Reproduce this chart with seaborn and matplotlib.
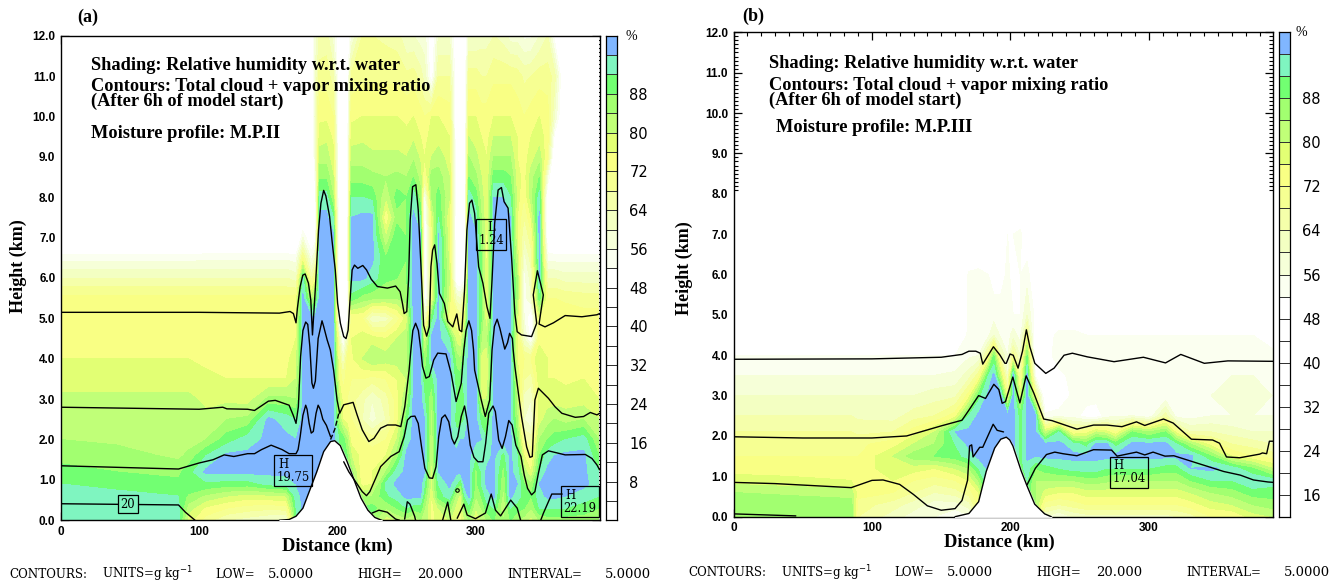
import numpy as np
import matplotlib
matplotlib.use('Agg')
import matplotlib.pyplot as plt
from matplotlib.colors import ListedColormap, BoundaryNorm
from matplotlib.ticker import MultipleLocator
import seaborn as sns

# shading colours, 0-100 % every 4 %
levels = list(range(0, 104, 4))
colors = ['#ffffff'] * 13 + ['#fbfff0', '#f6ffd8', '#f3ffc2', '#f5ffaa', '#f6ff92', '#f9ff84',
                             '#e2ff74', '#c0ff78', '#a2ff70', '#72ff72', '#7ff5c0', '#80b6ff']
cbar_ticks_a = [8, 16, 24, 32, 40, 48, 56, 64, 72, 80, 88]
cbar_ticks_b = [16, 24, 32, 40, 48, 56, 64, 72, 80, 88]

# relative humidity panel a, one list per distance
z_a = [0, .3, .6, .9, 1.2, 1.6, 2, 2.5, 3, 3.5, 4, 4.5, 5, 5.5, 6, 6.5, 7, 7.5, 8, 8.5, 9, 9.5, 10, 11, 12]
x_a = [0, 40, 85, 92, 105, 120, 135, 150, 163, 170, 175, 181, 184, 187, 192, 197, 201, 204, 207, 210, 218, 225,
       235, 243, 250, 255, 260, 263, 268, 273, 281, 286, 289, 292, 295, 300, 304, 308, 313, 320, 325, 330, 335,
       340, 346, 352, 357, 365, 378, 389]
rh_a = [
    [96, 94, 93, 92, 89, 87, 84, 83, 81, 78, 76, 75, 75, 73, 64, 54, 40, 40, 40, 40, 40, 40, 40, 40, 40],
    [95, 93, 93, 91, 88, 86, 83, 82, 81, 78, 76, 75, 75, 73, 64, 54, 40, 40, 40, 40, 40, 40, 40, 40, 40],
    [93, 93, 92, 89, 87, 83, 82, 81, 81, 78, 76, 75, 75, 73, 64, 54, 40, 40, 40, 40, 40, 40, 40, 40, 40],
    [78, 82, 87, 92, 90, 85, 82, 81, 81, 78, 76, 75, 75, 73, 64, 54, 40, 40, 40, 40, 40, 40, 40, 40, 40],
    [70, 75, 83, 91, 97, 92, 84, 81, 79, 77, 75, 75, 75, 73, 64, 55, 40, 40, 40, 40, 40, 40, 40, 40, 40],
    [64, 72, 80, 90, 97, 97, 90, 84, 79, 76, 75, 75, 75, 73, 64, 55, 40, 40, 40, 40, 40, 40, 40, 40, 40],
    [62, 70, 78, 90, 97, 97, 94, 85, 78, 76, 75, 75, 74, 73, 64, 55, 40, 40, 40, 40, 40, 40, 40, 40, 40],
    [60, 69, 79, 93, 97, 97, 97, 97, 85, 76, 75, 75, 74, 73, 64, 55, 40, 40, 40, 40, 40, 40, 40, 40, 40],
    [58, 70, 80, 94, 97, 97, 97, 94, 85, 76, 75, 75, 74, 73, 64, 55, 40, 40, 40, 40, 40, 40, 40, 40, 40],
    [90, 92, 94, 96, 97, 97, 96, 92, 84, 80, 78, 76, 76, 74, 62, 54, 40, 40, 40, 40, 40, 40, 40, 40, 40],
    [97, 97, 97, 97, 97, 97, 97, 97, 97, 97, 97, 97, 97, 97, 93, 72, 56, 44, 40, 40, 40, 40, 40, 40, 40],
    [97, 97, 97, 97, 97, 97, 97, 97, 97, 97, 97, 97, 97, 82, 66, 55, 45, 40, 40, 40, 40, 40, 40, 40, 40],
    [97, 97, 97, 97, 97, 97, 97, 97, 97, 97, 97, 97, 97, 86, 74, 60, 50, 46, 50, 54, 58, 60, 62, 60, 58],
    [97, 97, 97, 97, 97, 97, 97, 97, 97, 97, 97, 97, 97, 97, 97, 97, 97, 97, 94, 87, 82, 78, 75, 70, 65],
    [97, 97, 97, 97, 97, 97, 97, 97, 97, 97, 97, 97, 97, 97, 97, 97, 97, 97, 94, 87, 82, 79, 75, 70, 66],
    [97, 97, 97, 97, 97, 97, 97, 97, 97, 97, 97, 97, 97, 97, 97, 97, 97, 92, 84, 80, 77, 75, 72, 66, 58],
    [92, 92, 92, 92, 92, 92, 92, 84, 82, 76, 72, 66, 50, 46, 46, 46, 46, 46, 46, 46, 46, 46, 46, 46, 46],
    [92, 92, 92, 92, 92, 92, 90, 76, 74, 70, 60, 50, 46, 46, 46, 46, 46, 46, 46, 46, 46, 46, 46, 46, 46],
    [90, 90, 90, 90, 90, 88, 84, 74, 72, 74, 72, 62, 50, 46, 46, 46, 46, 46, 46, 46, 46, 46, 46, 46, 46],
    [88, 88, 88, 88, 86, 80, 74, 72, 70, 72, 75, 76, 72, 90, 97, 97, 97, 96, 92, 86, 82, 78, 75, 69, 56],
    [88, 88, 84, 74, 72, 74, 72, 64, 65, 72, 80, 78, 72, 86, 97, 97, 97, 97, 92, 86, 82, 79, 76, 71, 68],
    [86, 90, 84, 76, 76, 74, 70, 58, 60, 70, 84, 78, 60, 85, 94, 97, 97, 97, 91, 85, 81, 78, 76, 71, 68],
    [78, 84, 91, 93, 84, 76, 72, 64, 66, 72, 82, 76, 62, 84, 89, 88, 80, 72, 80, 84, 81, 78, 76, 71, 67],
    [80, 88, 94, 97, 94, 86, 80, 74, 74, 76, 82, 80, 70, 84, 88, 90, 92, 86, 90, 85, 81, 78, 76, 71, 66],
    [82, 92, 97, 97, 97, 97, 94, 90, 84, 80, 82, 82, 78, 86, 88, 88, 88, 88, 88, 84, 80, 77, 75, 69, 60],
    [78, 90, 97, 97, 97, 97, 97, 97, 97, 97, 97, 97, 97, 97, 97, 97, 97, 97, 94, 88, 83, 79, 76, 70, 60],
    [84, 90, 97, 97, 97, 97, 97, 97, 97, 97, 97, 97, 97, 97, 97, 97, 97, 92, 86, 82, 79, 76, 74, 66, 58],
    [84, 84, 88, 92, 96, 97, 97, 96, 92, 88, 84, 76, 58, 46, 46, 46, 46, 46, 50, 70, 76, 74, 72, 62, 58],
    [74, 74, 76, 78, 78, 80, 80, 82, 84, 90, 96, 97, 90, 72, 72, 72, 72, 76, 84, 86, 80, 78, 76, 48, 46],
    [78, 80, 90, 92, 96, 97, 97, 97, 97, 97, 97, 97, 97, 97, 97, 97, 97, 92, 90, 86, 82, 78, 76, 68, 60],
    [80, 86, 94, 97, 97, 97, 97, 97, 97, 97, 97, 92, 74, 78, 80, 78, 76, 76, 80, 80, 78, 76, 74, 68, 60],
    [76, 78, 82, 92, 97, 97, 94, 90, 92, 90, 86, 78, 74, 62, 46, 46, 46, 46, 46, 46, 46, 46, 46, 46, 46],
    [74, 76, 78, 88, 97, 97, 96, 90, 90, 90, 84, 76, 70, 60, 46, 46, 46, 46, 46, 46, 46, 46, 46, 46, 46],
    [80, 86, 92, 97, 97, 97, 96, 92, 92, 94, 92, 86, 76, 70, 50, 46, 46, 46, 46, 46, 46, 46, 46, 46, 46],
    [84, 90, 97, 97, 97, 97, 97, 97, 97, 97, 97, 97, 97, 97, 97, 97, 97, 97, 94, 88, 84, 80, 76, 70, 60],
    [76, 80, 84, 86, 86, 92, 97, 97, 97, 97, 97, 97, 97, 97, 97, 97, 97, 94, 90, 85, 81, 78, 76, 70, 60],
    [80, 84, 88, 92, 92, 94, 96, 90, 80, 78, 78, 84, 88, 88, 88, 88, 86, 84, 82, 80, 78, 76, 74, 68, 62],
    [84, 90, 94, 97, 97, 94, 92, 88, 80, 76, 76, 82, 76, 74, 74, 74, 74, 76, 76, 76, 76, 74, 74, 68, 62],
    [88, 92, 97, 97, 97, 97, 97, 97, 97, 97, 97, 97, 97, 97, 97, 97, 97, 97, 96, 90, 84, 80, 76, 71, 64],
    [84, 80, 82, 84, 86, 90, 97, 97, 97, 97, 97, 97, 97, 97, 97, 97, 97, 97, 96, 90, 84, 80, 76, 71, 62],
    [88, 92, 97, 97, 97, 97, 97, 97, 97, 97, 97, 97, 97, 97, 97, 97, 97, 96, 92, 88, 84, 80, 76, 71, 58],
    [84, 90, 94, 96, 94, 92, 88, 84, 82, 80, 76, 76, 78, 84, 84, 80, 76, 76, 78, 78, 76, 76, 74, 70, 58],
    [82, 88, 90, 88, 82, 76, 68, 60, 62, 68, 72, 60, 56, 54, 54, 58, 64, 68, 72, 74, 74, 72, 72, 67, 55],
    [78, 84, 88, 84, 76, 70, 66, 56, 60, 66, 72, 50, 46, 60, 62, 66, 70, 76, 82, 82, 78, 76, 74, 68, 55],
    [84, 92, 94, 96, 92, 88, 84, 78, 78, 78, 80, 74, 76, 90, 97, 97, 97, 97, 94, 88, 82, 78, 76, 70, 60],
    [86, 92, 97, 97, 97, 94, 88, 82, 78, 76, 76, 74, 76, 72, 64, 54, 46, 42, 44, 56, 72, 74, 74, 70, 64],
    [86, 92, 97, 97, 97, 96, 90, 84, 78, 76, 75, 74, 75, 72, 64, 54, 42, 40, 40, 40, 42, 50, 60, 66, 50],
    [86, 92, 96, 97, 97, 97, 92, 82, 78, 75, 74, 74, 75, 71, 62, 54, 40, 40, 40, 40, 40, 40, 40, 40, 40],
    [86, 90, 94, 97, 97, 97, 94, 84, 78, 76, 74, 74, 74, 70, 62, 54, 40, 40, 40, 40, 40, 40, 40, 40, 40],
    [84, 88, 92, 94, 92, 88, 84, 80, 76, 75, 74, 74, 74, 70, 62, 54, 40, 40, 40, 40, 40, 40, 40, 40, 40],
]

# relative humidity panel b, one list per distance
z_b = [0, .3, .6, .9, 1.2, 1.5, 1.8, 2.1, 2.5, 3, 3.5, 4, 4.5, 5, 6, 7, 8]
x_b = [0, 40, 85, 90, 115, 130, 145, 160, 170, 177, 184, 188, 193, 198, 202, 207, 212, 218, 225, 235, 245, 255,
       262, 269, 276, 288, 300, 312, 320, 330, 345, 360, 375, 389]
rh_b = [
    [88, 88, 84, 78, 74, 72, 72, 68, 64, 60, 56, 52, 46, 44, 40, 40, 40],
    [88, 87, 83, 77, 74, 72, 72, 68, 64, 60, 56, 52, 46, 44, 40, 40, 40],
    [88, 86, 82, 76, 74, 72, 72, 68, 64, 60, 56, 52, 46, 44, 40, 40, 40],
    [68, 70, 74, 76, 74, 72, 71, 67, 63, 60, 56, 52, 46, 44, 40, 40, 40],
    [62, 66, 72, 76, 78, 80, 74, 68, 62, 60, 56, 52, 46, 44, 40, 40, 40],
    [58, 62, 68, 72, 78, 86, 80, 74, 66, 60, 56, 52, 46, 44, 40, 40, 40],
    [56, 58, 64, 70, 76, 88, 84, 80, 68, 62, 56, 52, 46, 44, 40, 40, 40],
    [53, 58, 66, 72, 80, 90, 92, 96, 74, 63, 57, 52, 46, 44, 40, 40, 40],
    [55, 62, 70, 76, 84, 94, 97, 97, 92, 74, 62, 55, 53, 53, 53, 40, 40],
    [70, 74, 76, 84, 92, 97, 97, 97, 97, 90, 70, 56, 53, 53, 54, 40, 40],
    [97, 97, 97, 97, 97, 97, 97, 97, 97, 97, 92, 70, 55, 53, 52, 40, 40],
    [97, 97, 97, 97, 97, 97, 97, 97, 97, 97, 97, 88, 60, 54, 50, 40, 40],
    [97, 97, 97, 97, 97, 97, 97, 97, 97, 97, 80, 64, 55, 54, 50, 40, 40],
    [97, 97, 97, 97, 97, 97, 97, 97, 97, 72, 60, 56, 54, 53, 53, 52, 40],
    [97, 97, 97, 97, 97, 97, 97, 97, 97, 97, 97, 70, 58, 52, 50, 52, 46],
    [90, 90, 90, 90, 90, 90, 90, 90, 90, 76, 66, 60, 54, 52, 52, 53, 44],
    [90, 90, 90, 92, 94, 97, 97, 97, 97, 97, 97, 88, 72, 60, 54, 48, 40],
    [84, 84, 84, 84, 88, 96, 97, 97, 97, 72, 52, 46, 46, 50, 46, 40, 40],
    [60, 70, 78, 84, 90, 97, 97, 80, 53, 46, 48, 50, 50, 50, 44, 40, 40],
    [55, 68, 76, 84, 92, 97, 97, 92, 54, 48, 51, 54, 53, 49, 42, 40, 40],
    [60, 70, 76, 84, 94, 97, 94, 72, 54, 53, 53, 54, 53, 49, 46, 40, 40],
    [62, 72, 78, 86, 94, 97, 90, 74, 50, 54, 54, 54, 52, 48, 40, 40, 40],
    [62, 72, 78, 86, 94, 97, 97, 80, 49, 54, 54, 54, 52, 48, 40, 40, 40],
    [62, 72, 78, 85, 92, 97, 97, 78, 54, 54, 54, 54, 52, 48, 40, 40, 40],
    [62, 72, 78, 84, 92, 97, 90, 72, 55, 54, 54, 54, 52, 48, 40, 40, 40],
    [62, 72, 78, 84, 92, 97, 97, 88, 56, 53, 53, 54, 52, 48, 40, 40, 40],
    [62, 72, 78, 84, 92, 97, 97, 84, 53, 53, 53, 54, 52, 48, 40, 40, 40],
    [62, 72, 78, 84, 90, 97, 97, 88, 66, 53, 53, 54, 52, 48, 40, 40, 40],
    [64, 72, 78, 84, 90, 97, 92, 74, 54, 54, 54, 54, 52, 48, 40, 40, 40],
    [66, 74, 80, 88, 96, 97, 84, 64, 54, 54, 54, 54, 52, 48, 40, 40, 40],
    [72, 78, 84, 92, 97, 88, 74, 64, 56, 56, 56, 54, 52, 48, 40, 40, 40],
    [72, 80, 86, 92, 94, 76, 68, 62, 56, 58, 56, 54, 52, 48, 40, 40, 40],
    [78, 84, 90, 96, 88, 72, 66, 60, 56, 58, 56, 54, 52, 48, 40, 40, 40],
    [80, 86, 90, 94, 80, 70, 64, 60, 56, 56, 54, 53, 50, 46, 40, 40, 40],
]

# terrain
terrain_x_a = [158, 165, 170, 175, 180, 185, 190, 195, 198, 202, 207, 212, 217, 222, 227, 232]
terrain_z_a = [0, .02, .1, .3, .75, 1.2, 1.7, 1.95, 1.97, 1.85, 1.45, 1.0, .55, .25, .07, 0]
terrain_x_b = [160, 170, 177, 182.5, 188.6, 193, 197, 199.5, 201.8, 207.8, 212, 217.5, 224.7, 229.5]
terrain_z_b = [0, .08, .37, 1.12, 1.7, 1.92, 1.97, 1.9, 1.75, 1.13, .76, .31, .07, 0]

# mixing ratio contours panel a
c5_x_a = [0, 100, 158, 165.7, 168.1, 170, 171, 173, 174.9, 176.6, 179, 180.7, 181.9, 183.9, 186.3, 188, 190, 191.6,
          194.3, 196, 198.4, 200.1, 202.1, 204.5, 206.2, 207.7, 208.9, 210.6, 212.3, 214.7, 218.3, 221, 224.4,
          228.8, 236.1, 242.1, 245.3, 247, 248.2, 250.1, 251.4, 252.6, 254.3, 256.7, 258.4, 260.3, 262.3, 264.5,
          266.4, 267.6, 268.8, 270.3, 272, 273.7, 277.3, 279.8, 283.4, 286.3, 288.2, 289.9, 291.9, 293.6, 295.5,
          297.2, 299.2, 302.1, 305.2, 308.1, 310.3, 311.8, 313.7, 316.2, 318.6, 320.5, 323.4, 325.9, 328.3, 330,
          333.1, 340.4, 344.1, 341.6, 344.6, 348.9, 345.8, 350.1, 356.2, 364.7, 376.8, 387.7, 389.6]
c5_z_a = [5.15, 5.15, 5.13, 5.17, 5.12, 4.89, 5.25, 5.79, 6.07, 6.1, 5.87, 5.45, 4.59, 5.7, 7.19, 7.85, 8.17, 8.03,
          7.52, 6.94, 6.2, 5.37, 4.88, 4.55, 4.5, 4.71, 5.37, 6.2, 6.32, 6.24, 6.31, 6.2, 5.97,
          5.79, 5.75, 5.8, 5.66, 5.37, 5.12, 5.17, 5.95, 7.44, 8.26, 8.31, 7.69, 6.36, 4.83, 4.56,
          4.79, 6.28, 6.69, 6.82, 6.36, 5.62, 5.37, 4.92, 4.79, 5.11, 4.71, 4.67, 5.7, 7.19, 7.85,
          7.93, 7.6, 6.28, 5.87, 5.29, 5.0, 5.95, 7.36, 8.18, 8.24, 7.89, 7.73, 6.53, 5.12, 4.67,
          4.59, 4.55, 4.88, 5.58, 6.18, 5.58, 4.86, 4.79, 4.89, 5.07, 5.04, 5.09, 5.12]
c10_x_a = [0, 100, 117, 120, 135, 140, 150, 155, 165, 168, 170, 171.7, 173.3, 175, 177, 178.5, 180, 181.5, 182.6, 184,
           186, 188.8, 190, 192.5, 194.8, 197.2, 199.7, 201.6, 204.5, 211.3, 214.2, 217.9, 222.7, 226.4, 231.2, 236.1,
           242.1, 245.8, 248.7, 251.8, 253.1, 254.5, 256.5, 258.5, 260.3, 261.5, 264, 266.4, 269.6, 272.5, 278.5,
           282.2, 285.8, 289.5, 291.4, 293, 295, 297, 298.4, 299.2, 304, 306.9, 310.1, 311.8, 313.5, 315.5, 317.5,
           321, 323, 324.5, 326.5, 327.1, 328.3, 333.1, 336.8, 339.2, 340.9, 342.8, 345.3, 352.6, 357.4, 362.3, 372,
           378, 382.9, 387.7, 389.6]
c10_z_a = [2.8, 2.75, 2.8, 2.76, 2.75, 2.72, 2.95, 2.97, 2.85, 2.6, 2.4, 2.81, 4.05, 4.7, 4.91, 4.85, 4.3, 3.4, 3.27, 3.45,
           4.5, 4.94, 4.8, 4.47, 4.22, 3.72, 2.98, 2.65, 2.86, 2.92, 2.61, 2.24, 1.95, 2.03, 2.28, 2.36,
           2.36, 2.32, 2.82, 3.72, 4.22, 4.7, 4.88, 4.7, 4.22, 3.81, 3.52, 3.56, 3.97, 4.14, 4.12,
           3.64, 2.94, 3.39, 4.22, 4.7, 4.94, 4.7, 4.22, 3.72, 2.98, 2.57, 2.98, 4.22, 4.8, 4.98, 4.75,
           4.24, 4.4, 4.63, 4.5, 4.22, 3.81, 2.57, 1.82, 1.56, 1.58, 2.98, 3.27, 3.02, 2.81, 2.65, 2.55,
           2.57, 2.67, 2.61, 2.65]
c15_x_a = [0, 85, 100, 110, 118, 125, 135, 140, 145, 152, 160, 165, 170, 171.5, 173, 175, 177, 178, 179.5, 181, 182.5,
           184.5, 186, 187.5, 189.4, 192, 195]
c15_z_a = [1.35, 1.27, 1.42, 1.5, 1.62, 1.58, 1.65, 1.65, 1.75, 1.86, 1.75, 1.65, 1.65, 1.75, 2.07, 2.6, 2.85, 2.75, 2.4,
           2.16, 2.2, 2.65, 2.85, 2.75, 2.5, 2.35, 2.07]
c15_dash_x_a = [195, 198, 201]
c15_dash_z_a = [2.0, 2.25, 2.65]
c15r_x_a = [204.5, 208.2, 213, 217.9, 221, 223.4, 227.6, 231.2, 238.5, 244.6, 248.2, 250.6, 253.1, 256, 258.4, 260.8,
            263.2, 266.4, 268.8, 271.3, 273.2, 275.4, 277.8, 280.5, 282.7, 284.6, 287, 289.5, 291.9, 293.8, 296,
            298.7, 301.6, 305.2, 307.2, 309.4, 312.5, 314.2, 316.6, 319.1, 321.5, 323.9, 326.3, 329, 332.7, 335.1,
            337.5, 340.4, 342.8, 345.3, 348.2, 352.6, 364.7, 379.3, 384.1, 387.7, 389.6]
c15r_z_a = [1.45, 1.2, .96, .71, .61, .71, 1.04, 1.33, 1.58, 1.7, 2.07, 2.48, 2.57, 2.58, 2.4, 1.82,
            1.29, 1.05, 1.04, 1.33, 2.07, 2.53, 2.61, 2.44, 2.03, 1.89, 2.07, 2.57, 2.83, 2.48, 1.86,
            1.56, 1.45, 1.45, 1.91, 2.65, 2.83, 2.69, 1.99, 1.78, 2.07, 2.47, 2.36, 1.86, 1.58, 1.12,
            .79, .63, .71, 1.16, 1.62, 1.72, 1.62, 1.63, 1.53, 1.37, 1.25]
c20_x_a = [0, 85, 90, 97]
c20_z_a = [.41, .38, .2, 0]
arc1_x_a = [225, 230, 236, 242, 245]
arc1_z_a = [.18, .25, .2, .03, 0]
arc2_x_a = [248.6, 250.5, 252.4, 255.8, 256.5]
arc2_z_a = [.03, .46, .4, .1, 0]
arc3_x_a = [276, 279.7, 282]
arc3_z_a = [0, .45, 0]
arc4_x_a = [286.6, 291.4, 293.8, 299.8, 307, 311.2, 314.3, 318, 325.3, 330, 332.5]
arc4_z_a = [.05, .4, .13, .04, .18, .65, .25, .11, .5, .3, 0]
arc5_x_a = [347, 349, 355, 362.5]
arc5_z_a = [0, .18, .65, .65]

# mixing ratio contours panel b
c5_x_b = [0, 100, 150, 165, 170, 175, 178.2, 180, 187.7, 192.5, 196, 197, 199.7, 202, 205.5, 208.7, 211.5, 214, 217.6,
          225.5, 231.5, 238.7, 244.7, 255.5, 274.8, 296, 312, 323, 340, 357, 387, 390]
c5_z_b = [3.9, 3.91, 3.95, 4.02, 4.1, 4.1, 4.05, 3.78, 4.21, 4.0, 3.8, 3.8, 4.03, 4.0, 3.68, 4.1, 4.63, 4.21, 3.8,
          3.55, 3.68, 4.0, 4.05, 3.96, 3.84, 3.95, 3.81, 4.02, 3.8, 3.86, 3.85, 3.85]
c10_x_b = [0, 50, 100, 125, 135, 150, 165, 170, 177, 182, 188, 191.6, 194, 196.4, 201.7, 206.8, 211.3, 216.9, 224, 230,
           248, 260, 269.7, 280.5, 291, 297, 310.5, 317.5, 330.7, 346, 351, 356, 365.5, 380, 382, 385, 387, 390]
c10_z_b = [1.98, 1.95, 1.95, 2.0, 2.1, 2.25, 2.39, 2.64, 3.0, 2.93, 3.28, 3.15, 2.81, 2.85, 3.46, 2.82, 3.49, 3.06, 2.42,
           2.38, 2.17, 2.27, 2.27, 2.23, 2.35, 2.26, 2.42, 2.32, 1.92, 1.9, 1.82, 1.48, 1.46, 1.55, 1.58, 1.56, 1.87, 1.87]
c15_x_b = [0, 30, 85, 90, 100, 108, 120, 130, 140, 150, 160, 165, 169, 170.5, 172, 173, 177.8, 180, 187.5, 190.4, 195]
c15_z_b = [.85, .82, .72, .78, .9, .91, .8, .55, .27, .16, .2, .4, .9, 1.75, 1.78, 1.48, 1.72, 1.72, 2.29, 2.14, 2.1]
c15r_x_b = [212, 218, 222, 226, 232, 238, 248, 260, 273, 277, 291, 297, 303, 311.6, 318, 334.6, 354, 366, 375.5, 386, 390]
c15r_z_b = [.79, 1.2, 1.37, 1.54, 1.6, 1.56, 1.51, 1.66, 1.65, 1.5, 1.6, 1.53, 1.6, 1.5, 1.51, 1.33, 1.12, 1.03, .91, .86, .85]
c20_x_b = [0, 45]
c20_z_b = [.07, .02]

W, H = 1340, 584
sns.set_theme(style='ticks', rc={'text.color': 'black', 'xtick.color': 'black', 'ytick.color': 'black',
                                 'axes.labelcolor': 'black'})
plt.rcParams['font.family'] = ['Liberation Sans', 'DejaVu Sans']
serif = 'Liberation Serif'
cmap = ListedColormap(colors)
norm = BoundaryNorm(levels, cmap.N)


def px_axes(fig, left, top, right, bottom):
    return fig.add_axes([left / W, 1 - bottom / H, (right - left) / W, (bottom - top) / H])


def draw_line(ax, xs, zs, lw=1.0, ls='-'):
    sns.lineplot(x=xs, y=zs, sort=False, estimator=None, color='black', linewidth=lw, linestyle=ls, ax=ax)


def draw_panel(ax, xs, zs, rh, terrain_x, terrain_z, lines):
    ax.contourf(xs, zs, np.array(rh).T, levels=levels, cmap=cmap, norm=norm)
    ax.fill_between(terrain_x, 0, terrain_z, color='white', zorder=3)
    for line in lines:
        draw_line(ax, line[0], line[1])
    draw_line(ax, terrain_x, terrain_z)
    for ln in ax.lines:
        ln.set_zorder(4)
    ax.set_xlim(0, 389.6)
    ax.set_ylim(0, 12)
    ax.set_xticks([0, 100, 200, 300])
    ax.set_yticks(np.arange(0, 13, 1.0))
    ax.set_yticklabels(['%.1f' % v for v in np.arange(0, 13, 1.0)])
    ax.xaxis.set_minor_locator(MultipleLocator(10))
    ax.yaxis.set_minor_locator(MultipleLocator(0.1))
    ax.tick_params(which='major', direction='in', top=True, right=True, length=6, width=0.9, labelsize=8.5, pad=4)
    ax.tick_params(which='minor', direction='in', top=True, right=True, length=3, width=0.8)
    for lab in ax.get_xticklabels() + ax.get_yticklabels():
        lab.set_fontweight('bold')
    ax.set_xlabel('')
    ax.set_ylabel('')
    for s in ax.spines.values():
        s.set_linewidth(1.0)
        s.set_color('black')


def draw_cbar(cax, low, ticks):
    steps = list(range(96, low - 4, -4))
    vals = np.array(steps, dtype=float).reshape(-1, 1) + 2
    sns.heatmap(vals, ax=cax, cmap=cmap, norm=norm, cbar=False, linewidths=0.5, linecolor='#333333',
                xticklabels=False, yticklabels=False)
    cax.yaxis.tick_right()
    cax.set_yticks([(100 - t) / 4 for t in ticks])
    cax.set_yticklabels([str(t) for t in ticks], rotation=0, fontsize=10.5, family='DejaVu Sans')
    cax.tick_params(axis='y', length=0, pad=9)
    cax.set_ylabel('')
    cax.set_xlabel('')
    for s in cax.spines.values():
        s.set_visible(True)
        s.set_linewidth(0.9)
        s.set_color('black')


def label_box(ax, x, z, txt, fc='none'):
    ax.text(x, z, txt, family='DejaVu Serif', fontsize=8.4, ha='center', va='center', linespacing=1.0, zorder=6,
            bbox=dict(boxstyle='square,pad=0.2', fc=fc, ec='black', lw=0.9))


def fig_text(fig, x, y, txt, size=13.2, weight='bold', ha='left', family=serif, **kw):
    fig.text(x / W, 1 - y / H, txt, family=family, fontsize=size, fontweight=weight, ha=ha, va='center', color='black', **kw)


fig = plt.figure(figsize=(W / 100, H / 100), dpi=100)

ax_a = px_axes(fig, 61, 35.7, 599.6, 520.3)
draw_panel(ax_a, x_a, z_a, rh_a, terrain_x_a, terrain_z_a,
           [(c5_x_a, c5_z_a), (c10_x_a, c10_z_a), (c15_x_a, c15_z_a), (c15r_x_a, c15r_z_a), (c20_x_a, c20_z_a),
            (arc1_x_a, arc1_z_a), (arc2_x_a, arc2_z_a), (arc3_x_a, arc3_z_a), (arc4_x_a, arc4_z_a),
            (arc5_x_a, arc5_z_a)])
draw_line(ax_a, c15_dash_x_a, c15_dash_z_a, ls='--')
ax_a.plot([286.6], [.75], marker='o', ms=2.5, mfc='none', mec='black', mew=0.8, zorder=5)
label_box(ax_a, 168, 1.23, 'H     \n19.75')
label_box(ax_a, 48.5, .4, '20', fc='#7ff5c0')
label_box(ax_a, 375.6, .465, 'H     \n22.19')
label_box(ax_a, 311, 7.08, 'L\n1.24')

ax_b = px_axes(fig, 733.5, 32.3, 1273, 516.7)
draw_panel(ax_b, x_b, z_b, rh_b, terrain_x_b, terrain_z_b,
           [(c5_x_b, c5_z_b), (c10_x_b, c10_z_b), (c15_x_b, c15_z_b), (c15r_x_b, c15r_z_b), (c20_x_b, c20_z_b)])
label_box(ax_b, 285.6, 1.1, 'H     \n17.04')

cax_a = px_axes(fig, 606, 35.7, 617, 520.3)
draw_cbar(cax_a, 0, cbar_ticks_a)
cax_b = px_axes(fig, 1279, 32.3, 1290, 516.7)
draw_cbar(cax_b, 12, cbar_ticks_b)
fig_text(fig, 631, 36, '%', size=10, weight='normal', ha='center')
fig_text(fig, 1301, 33, '%', size=10, weight='normal', ha='center')

fig_text(fig, 77, 17, '(a)', size=13)
fig_text(fig, 742, 16, '(b)', size=13)
fig_text(fig, 91, 65, 'Shading: Relative humidity w.r.t. water')
fig_text(fig, 91, 94, 'Contours: Total cloud + vapor mixing ratio\n(After 6h of model start)', linespacing=0.78)
fig_text(fig, 91, 134, 'Moisture profile: M.P.II')
fig_text(fig, 769, 64, 'Shading: Relative humidity w.r.t. water')
fig_text(fig, 769, 93, 'Contours: Total cloud + vapor mixing ratio\n(After 6h of model start)', linespacing=0.78)
fig_text(fig, 776, 128, 'Moisture profile: M.P.III')

fig_text(fig, 18, 266, 'Height (km)', size=13, rotation=90, ha='center')
fig_text(fig, 684, 268, 'Height (km)', size=13, rotation=90, ha='center')
fig_text(fig, 337, 546, 'Distance (km)', size=13.3, ha='center')
fig_text(fig, 999, 542, 'Distance (km)', size=13.3, ha='center')

foot_x = [9, 102, 215, 268, 357, 417, 507, 605]
foot_txt = ['CONTOURS:', 'UNITS=g kg$^{-1}$', 'LOW=', '5.0000', 'HIGH=', '20.000', 'INTERVAL=', '5.0000']
foot_size = [8.6, 8.6, 8.6, 9.5, 8.6, 9.5, 8.6, 9.5]
for fx, ft, fs in zip(foot_x, foot_txt, foot_size):
    fig_text(fig, fx, 574, ft, size=fs, weight='normal', family='DejaVu Serif')
    fig_text(fig, fx + 679, 573, ft, size=fs, weight='normal', family='DejaVu Serif')

fig.savefig('out.png', dpi=100)
